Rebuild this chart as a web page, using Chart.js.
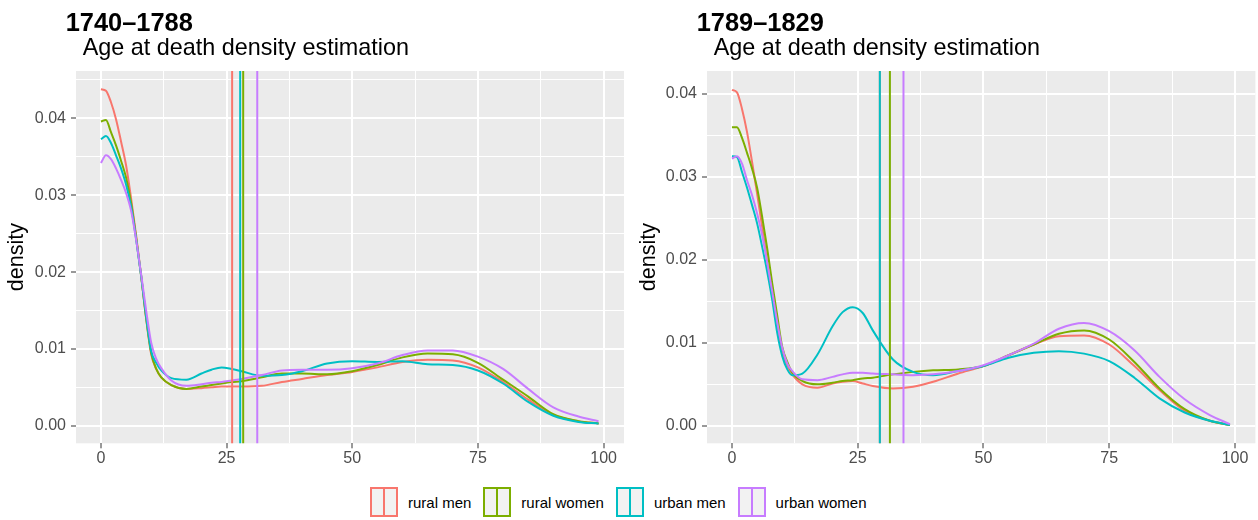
<!DOCTYPE html>
<html>
<head>
<meta charset="utf-8">
<script src="https://cdn.jsdelivr.net/npm/chart.js@4.4.1/dist/chart.umd.min.js"></script>
<style>
  body { margin: 0; background: #fff; font-family: "Liberation Sans", Arial, sans-serif; }
  #page { position: relative; width: 1258px; height: 520px; overflow: hidden; }
  canvas { position: absolute; top: 0; }
  .title { position: absolute; font-weight: bold; font-size: 25.4px; line-height: 25.4px; color: #000; white-space: nowrap; }
  .subtitle { position: absolute; font-size: 23.4px; line-height: 23.4px; color: #000; white-space: nowrap; }
  #legend { position: absolute; left: 370px; top: 487px; height: 30px; display: flex; align-items: center; }
  .item { display: flex; align-items: center; margin-right: 12px; }
  .key { position: relative; width: 28px; height: 30px; box-sizing: border-box; border: 2px solid; background: #F2F2F2; }
  .key span { position: absolute; left: 11px; top: 0; bottom: 0; width: 2px; }
  .label { margin-left: 10px; font-size: 15px; color: #000; white-space: nowrap; }
</style>
</head>
<body>
<div id="page">
  <canvas id="c1740" width="630" height="470" style="left:0px"></canvas>
  <canvas id="c1789" width="626" height="470" style="left:632px"></canvas>
  <div class="title" style="left:65.7px; top:9.5px">1740–1788</div>
  <div class="subtitle" style="left:82.7px; top:36.2px">Age at death density estimation</div>
  <div class="title" style="left:696.7px; top:9.5px">1789–1829</div>
  <div class="subtitle" style="left:713.7px; top:36.2px">Age at death density estimation</div>
  <div id="legend"></div>
</div>
<script>
// ages where the density curves were read
const AGES = [0, 1, 2, 3, 4, 5, 6, 7, 8, 9, 10, 11, 12, 14, 17, 20, 22, 24, 26, 28, 32, 36, 40, 45, 50, 55, 60, 65, 70, 75, 80, 85, 90, 95, 99];
const GROUPS = ['rural men', 'rural women', 'urban men', 'urban women'];
const COLORS = ['#F8766D', '#7CAE00', '#00BFC4', '#C77CFF'];

// 1740-1788
const RURAL_MEN_1740 = [0.0438, 0.0436, 0.0421, 0.0399, 0.0370, 0.0339, 0.0296, 0.0248, 0.0195, 0.0139, 0.0093, 0.0074, 0.0063, 0.0053, 0.0048, 0.0049, 0.0050, 0.0051, 0.0051, 0.0051, 0.0052, 0.0057, 0.0061, 0.0066, 0.0070, 0.0076, 0.0083, 0.0086, 0.0085, 0.0076, 0.0057, 0.0034, 0.0014, 0.0006, 0.0003];
const RURAL_WOMEN_1740 = [0.0396, 0.0398, 0.0382, 0.0365, 0.0345, 0.0323, 0.0290, 0.0245, 0.0195, 0.0140, 0.0095, 0.0074, 0.0063, 0.0053, 0.0048, 0.0051, 0.0053, 0.0055, 0.0057, 0.0058, 0.0063, 0.0068, 0.0068, 0.0067, 0.0071, 0.0079, 0.0089, 0.0094, 0.0093, 0.0082, 0.0060, 0.0038, 0.0015, 0.0006, 0.0003];
const URBAN_MEN_1740 = [0.0373, 0.0377, 0.0368, 0.0352, 0.0335, 0.0314, 0.0285, 0.0243, 0.0195, 0.0142, 0.0097, 0.0082, 0.0072, 0.0062, 0.0060, 0.0068, 0.0073, 0.0076, 0.0074, 0.0071, 0.0065, 0.0066, 0.0071, 0.0081, 0.0084, 0.0083, 0.0084, 0.0080, 0.0079, 0.0072, 0.0055, 0.0031, 0.0013, 0.0005, 0.0003];
const URBAN_WOMEN_1740 = [0.0342, 0.0352, 0.0347, 0.0335, 0.0320, 0.0303, 0.0280, 0.0242, 0.0197, 0.0150, 0.0108, 0.0087, 0.0075, 0.0059, 0.0052, 0.0054, 0.0056, 0.0057, 0.0059, 0.0061, 0.0066, 0.0072, 0.0073, 0.0073, 0.0075, 0.0081, 0.0092, 0.0098, 0.0098, 0.0090, 0.0074, 0.0048, 0.0024, 0.0012, 0.0006];
const MEAN_AGE_1740 = [26.1, 28.3, 27.7, 31.1];

// 1789-1829
const RURAL_MEN_1789 = [0.0405, 0.0402, 0.0382, 0.0354, 0.0318, 0.0280, 0.0240, 0.0198, 0.0156, 0.0121, 0.0088, 0.0073, 0.0062, 0.0050, 0.0046, 0.0051, 0.0053, 0.0054, 0.0051, 0.0048, 0.0045, 0.0047, 0.0053, 0.0063, 0.0072, 0.0085, 0.0098, 0.0108, 0.0109, 0.0098, 0.0072, 0.0043, 0.0018, 0.0006, 0.0001];
const RURAL_WOMEN_1789 = [0.0360, 0.0360, 0.0347, 0.0329, 0.0310, 0.0287, 0.0252, 0.0214, 0.0172, 0.0133, 0.0095, 0.0077, 0.0064, 0.0054, 0.0050, 0.0052, 0.0054, 0.0055, 0.0057, 0.0058, 0.0062, 0.0065, 0.0067, 0.0068, 0.0072, 0.0085, 0.0098, 0.0111, 0.0115, 0.0104, 0.0077, 0.0045, 0.0020, 0.0006, 0.0001];
const URBAN_MEN_1789 = [0.0325, 0.0324, 0.0306, 0.0287, 0.0266, 0.0244, 0.0216, 0.0186, 0.0152, 0.0112, 0.0084, 0.0068, 0.0061, 0.0063, 0.0086, 0.0120, 0.0137, 0.0143, 0.0136, 0.0115, 0.0080, 0.0065, 0.0061, 0.0066, 0.0072, 0.0082, 0.0088, 0.0090, 0.0087, 0.0078, 0.0058, 0.0033, 0.0016, 0.0006, 0.0001];
const URBAN_WOMEN_1789 = [0.0322, 0.0325, 0.0316, 0.0296, 0.0278, 0.0256, 0.0230, 0.0197, 0.0162, 0.0125, 0.0094, 0.0075, 0.0066, 0.0056, 0.0055, 0.0059, 0.0062, 0.0064, 0.0064, 0.0063, 0.0062, 0.0061, 0.0062, 0.0066, 0.0073, 0.0085, 0.0099, 0.0117, 0.0124, 0.0114, 0.0091, 0.0059, 0.0032, 0.0013, 0.0002];
const MEAN_AGE_1789 = [29.4, 31.4, 29.4, 34.1];

// axis ticks
const X_TICKS = [0, 25, 50, 75, 100];
const Y_TICKS = [0, 0.01, 0.02, 0.03, 0.04];

const FONT = '"Liberation Sans", Arial, sans-serif';

// major ticks plus the minor ones halfway between (ggplot style)
function withMinor(major, max) {
    const out = [];
    const step = major[1] - major[0];
    major.forEach((v, i) => {
        out.push(v);
        const mid = i < major.length - 1 ? (v + major[i + 1]) / 2 : v + step / 2;
        if (mid < max) out.push(mid);
    });
    return out;
}

// grey panel behind the grid
const panelBackground = {
    id: 'panelBackground',
    beforeDraw(chart) {
        const { ctx, chartArea: a } = chart;
        ctx.save();
        ctx.fillStyle = '#EBEBEB';
        ctx.fillRect(a.left, a.top, a.right - a.left, a.bottom - a.top);
        ctx.restore();
    }
};

function makePanel(id, series, means, opts) {
    const curves = series.map((vals, i) => ({
        label: GROUPS[i],
        data: AGES.map((a, k) => ({ x: a, y: vals[k] })),
        borderColor: COLORS[i],
        borderWidth: 2,
        pointRadius: 0,
        cubicInterpolationMode: 'monotone',
        clip: 0,
        order: 10 - i
    }));
    const vlines = means.map((m, i) => ({
        label: GROUPS[i] + ' mean',
        data: [{ x: m, y: opts.yMin - 1 }, { x: m, y: opts.yMax + 1 }],
        borderColor: COLORS[i],
        borderWidth: 2,
        pointRadius: 0,
        clip: 0,
        order: 4 - i
    }));
    const xGrid = withMinor(X_TICKS, opts.xMax);
    const yGrid = withMinor(Y_TICKS, opts.yMax);

    return new Chart(document.getElementById(id), {
        type: 'line',
        data: { datasets: curves.concat(vlines) },
        options: {
            responsive: false,
            animation: false,
            layout: { padding: { top: 71, right: opts.padRight, bottom: 0, left: 0 } },
            plugins: { legend: { display: false }, tooltip: { enabled: false } },
            scales: {
                x: {
                    type: 'linear',
                    min: opts.xMin,
                    max: opts.xMax,
                    afterBuildTicks: s => { s.ticks = xGrid.map(v => ({ value: v })); },
                    afterFit: s => { s.height = 26.7; },
                    border: { display: false },
                    grid: {
                        color: '#FFFFFF',
                        lineWidth: c => (c.tick && X_TICKS.includes(c.tick.value)) ? 2 : 1,
                        tickColor: c => (c.tick && X_TICKS.includes(c.tick.value)) ? '#333333' : 'rgba(0,0,0,0)',
                        tickLength: 5,
                        tickWidth: 1
                    },
                    ticks: {
                        autoSkip: false,
                        maxRotation: 0,
                        padding: 1,
                        color: '#4D4D4D',
                        font: { family: FONT, size: 16 },
                        callback: v => X_TICKS.includes(v) ? String(v) : ''
                    }
                },
                y: {
                    type: 'linear',
                    min: opts.yMin,
                    max: opts.yMax,
                    afterBuildTicks: s => { s.ticks = yGrid.map(v => ({ value: v })); },
                    afterFit: s => { s.width = opts.yAxisWidth; },
                    border: { display: false },
                    grid: {
                        color: '#FFFFFF',
                        lineWidth: c => (c.tick && Y_TICKS.includes(c.tick.value)) ? 2 : 1,
                        tickColor: c => (c.tick && Y_TICKS.includes(c.tick.value)) ? '#333333' : 'rgba(0,0,0,0)',
                        tickLength: 5,
                        tickWidth: 1
                    },
                    ticks: {
                        autoSkip: false,
                        padding: 5,
                        color: '#4D4D4D',
                        font: { family: FONT, size: 16 },
                        callback: v => Y_TICKS.includes(v) ? v.toFixed(2) : ''
                    },
                    title: {
                        display: true,
                        text: 'density',
                        color: '#000000',
                        font: { family: FONT, size: 21.5 },
                        padding: { top: opts.titlePad, bottom: 0 }
                    }
                }
            }
        },
        plugins: [panelBackground]
    });
}

makePanel('c1740', [RURAL_MEN_1740, RURAL_WOMEN_1740, URBAN_MEN_1740, URBAN_WOMEN_1740], MEAN_AGE_1740,
    { xMin: -4.96, xMax: 104.06, yMin: -0.00228, yMax: 0.04617, yAxisWidth: 76, padRight: 6, titlePad: 4.5 });
makePanel('c1789', [RURAL_MEN_1789, RURAL_WOMEN_1789, URBAN_MEN_1789, URBAN_WOMEN_1789], MEAN_AGE_1789,
    { xMin: -4.96, xMax: 104.06, yMin: -0.00211, yMax: 0.04277, yAxisWidth: 75, padRight: 2.6, titlePad: 4 });

// shared legend
const legend = document.getElementById('legend');
GROUPS.forEach((g, i) => {
    const item = document.createElement('div');
    item.className = 'item';
    item.innerHTML = '<div class="key" style="border-color:' + COLORS[i] + '"><span style="background:' + COLORS[i] + '"></span></div>' +
        '<div class="label">' + g + '</div>';
    legend.appendChild(item);
});
</script>
</body>
</html>
